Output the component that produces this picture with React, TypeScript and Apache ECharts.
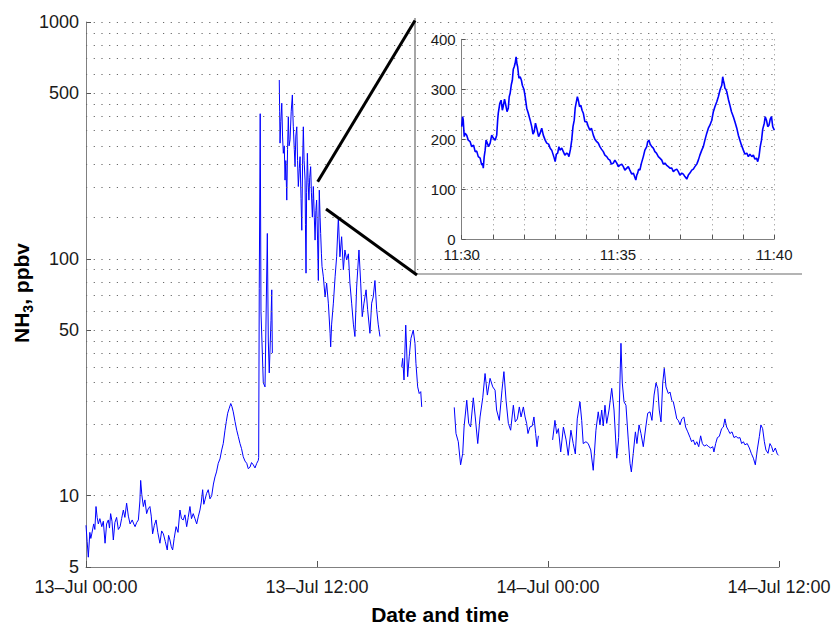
import React, { useEffect, useRef } from "react";
import * as echarts from "echarts";

// ---------- tick labels / grid values ----------
const X_TICK_LABELS = ["13–Jul 00:00", "13–Jul 12:00", "14–Jul 00:00", "14–Jul 12:00"];
const Y_TICK_VALUES = [5, 10, 50, 100, 500, 1000];
const Y_GRID_VALUES = [10, 15, 20, 25, 30, 35, 40, 45, 50, 60, 70, 80, 90, 100, 150, 200, 250, 300, 350, 400, 450, 500, 600, 700, 800, 900, 1000];
const INSET_X_LABELS = ["11:30", "11:35", "11:40"];

// ---------- main series: [hours since 13-Jul 00:00, NH3 ppbv] ----------
const SEG_A: [number, number][] = [
  [0.00, 7.5], [0.06, 6.4], [0.12, 5.5], [0.20, 7.0], [0.25, 6.6], [0.30, 6.9], [0.40, 7.6], [0.46, 7.2],
  [0.52, 9.0], [0.58, 8.1], [0.64, 7.6], [0.72, 8.0], [0.82, 7.4], [0.90, 7.8], [0.99, 6.3], [1.07, 7.6],
  [1.16, 7.9], [1.22, 7.3], [1.28, 8.4], [1.35, 7.8], [1.42, 6.5], [1.50, 7.7], [1.59, 8.1], [1.68, 7.2],
  [1.77, 7.4], [1.85, 8.0], [1.94, 8.7], [2.02, 8.1], [2.11, 9.3], [2.20, 8.2], [2.29, 7.6], [2.40, 7.9],
  [2.48, 7.6], [2.55, 7.4], [2.63, 7.7], [2.72, 7.9], [2.80, 9.5], [2.84, 11.6], [2.90, 10.1], [2.98, 9.0],
  [3.06, 9.6], [3.15, 8.4], [3.23, 8.8], [3.32, 9.0], [3.39, 8.2], [3.46, 6.9], [3.55, 7.5], [3.64, 7.9],
  [3.73, 7.0], [3.84, 6.3], [3.93, 7.1], [4.02, 6.9], [4.12, 6.4], [4.22, 5.9], [4.29, 6.8], [4.36, 6.5],
  [4.43, 6.1], [4.50, 5.9], [4.58, 6.6], [4.68, 7.4], [4.78, 7.0], [4.88, 8.7], [4.96, 8.0], [5.05, 7.9],
  [5.14, 8.3], [5.23, 7.4], [5.31, 8.1], [5.40, 9.0], [5.48, 8.0], [5.57, 8.4], [5.66, 8.0], [5.75, 7.6],
  [5.84, 8.2], [5.92, 8.7], [5.99, 9.4], [6.06, 10.6], [6.12, 9.2], [6.18, 9.6], [6.26, 10.2], [6.35, 10.6],
  [6.44, 9.7], [6.53, 10.0], [6.62, 11.2], [6.70, 12.0], [6.78, 12.6], [6.87, 13.7], [6.96, 14.3], [7.05, 15.6],
  [7.13, 16.6], [7.22, 18.9], [7.29, 20.6], [7.36, 22.3], [7.44, 23.4], [7.52, 24.5], [7.58, 23.8], [7.65, 22.6],
  [7.74, 20.6], [7.83, 18.9], [7.91, 17.8], [8.00, 16.6], [8.08, 15.8], [8.17, 14.6], [8.26, 14.0], [8.35, 13.7],
  [8.43, 13.0], [8.52, 13.2], [8.60, 13.8], [8.69, 13.5], [8.78, 13.1], [8.87, 13.7], [8.95, 14.1], [8.97, 14.5],
  [9.00, 75], [9.05, 410], [9.09, 60], [9.14, 45], [9.21, 30], [9.30, 28.8], [9.42, 128], [9.47, 45],
  [9.52, 33], [9.61, 55], [9.65, 74], [9.68, 40],
];
const SEG_B: [number, number][] = [
  [10.04, 569], [10.06, 420], [10.08, 308], [10.12, 380], [10.17, 454], [10.21, 330], [10.25, 279], [10.30, 300],
  [10.34, 215], [10.38, 260], [10.43, 177], [10.47, 290], [10.51, 398], [10.55, 300], [10.60, 318], [10.66, 420],
  [10.72, 492], [10.75, 400], [10.77, 361], [10.82, 290], [10.86, 245], [10.90, 330], [10.95, 361], [10.99, 260],
  [11.03, 202], [11.08, 240], [11.12, 270], [11.17, 180], [11.21, 132], [11.25, 250], [11.29, 361], [11.33, 260],
  [11.38, 215], [11.40, 140], [11.43, 87], [11.46, 190], [11.50, 279], [11.54, 210], [11.58, 177], [11.62, 220],
  [11.67, 245], [11.71, 190], [11.76, 150], [11.79, 180], [11.81, 202], [11.86, 150], [11.90, 120], [11.94, 160],
  [11.98, 177], [12.03, 120], [12.07, 81], [12.10, 150], [12.12, 195], [12.16, 150], [12.19, 128], [12.23, 105],
  [12.26, 93], [12.33, 84], [12.42, 69], [12.50, 79], [12.59, 65], [12.68, 48.5], [12.71, 42.5], [12.76, 53],
  [12.85, 65], [12.94, 84], [13.02, 102], [13.11, 150], [13.19, 102], [13.28, 124], [13.37, 90], [13.45, 109],
  [13.54, 99], [13.63, 105], [13.71, 79], [13.80, 65], [13.89, 53], [13.97, 47], [14.06, 76], [14.18, 109],
  [14.27, 79], [14.35, 57], [14.44, 65], [14.55, 74], [14.63, 61], [14.75, 48.5], [14.84, 65], [14.92, 69],
  [15.01, 81], [15.10, 61], [15.18, 53], [15.27, 47],
];
const SEG_C: [number, number][] = [
  [16.40, 35], [16.45, 38], [16.52, 30.8], [16.61, 52.5], [16.71, 31.8], [16.79, 38.6], [16.88, 46.2], [17.00, 50],
  [17.09, 44], [17.14, 36.2], [17.23, 28.8], [17.31, 27], [17.39, 27.5], [17.44, 23.7],
];
const SEG_D: [number, number][] = [
  [19.13, 23.6], [19.22, 18.3], [19.34, 16.9], [19.46, 13.5], [19.57, 15.1], [19.64, 19.5], [19.78, 25.3], [19.88, 20.2],
  [19.98, 19.5], [20.12, 25.9], [20.22, 21.5], [20.35, 16.6], [20.47, 21.5], [20.61, 25.9], [20.73, 32.8], [20.85, 26.6],
  [20.99, 31.3], [21.13, 28.8], [21.25, 27.9], [21.33, 23], [21.47, 20.8], [21.61, 27.9], [21.71, 33.4], [21.82, 25.3],
  [21.94, 20.2], [22.06, 18.9], [22.20, 24.1], [22.30, 20.5], [22.41, 21.1], [22.51, 23.7], [22.60, 21.5], [22.72, 23.7],
  [22.81, 21.5], [22.89, 20.2], [22.96, 18.3], [23.06, 19.5], [23.18, 19.7], [23.27, 21.5], [23.36, 18.3], [23.43, 16.1],
  [23.50, 17.9],
];
const SEG_E: [number, number][] = [
  [24.24, 17.2], [24.36, 20.8], [24.45, 18.3], [24.54, 19.2], [24.66, 15.3], [24.80, 19.5], [24.94, 17.2], [25.05, 14.8],
  [25.19, 18.9], [25.31, 16.6], [25.42, 15], [25.52, 21.1], [25.66, 24.9], [25.75, 20.8], [25.83, 16.6], [25.97, 16.9],
  [26.09, 16.6], [26.22, 15.6], [26.35, 12.8], [26.49, 18.9], [26.61, 22.6], [26.70, 19.9], [26.79, 23], [26.87, 19.7],
  [26.96, 24.1], [27.05, 20.2], [27.17, 23], [27.31, 28.4], [27.43, 23], [27.57, 14.4], [27.67, 17.6], [27.74, 30.8],
  [27.79, 44], [27.86, 29.9], [27.95, 24.9], [28.05, 24.1], [28.17, 17.2], [28.26, 13.7], [28.33, 12.6], [28.43, 15.1],
  [28.54, 18.6], [28.62, 16.6], [28.73, 19.9], [28.83, 18.3], [28.95, 16.1], [29.08, 19.5], [29.18, 22.3], [29.30, 22.6],
  [29.40, 20.8], [29.51, 26.6], [29.61, 29.9], [29.70, 28.4], [29.78, 23], [29.87, 20.5], [29.96, 29.9], [30.04, 34.5],
  [30.13, 28.8], [30.25, 27], [30.34, 27.4], [30.43, 25.3], [30.51, 24.9], [30.60, 23], [30.69, 21.1], [30.77, 20.8],
  [30.86, 19.9], [30.95, 21.1], [31.06, 21.5], [31.15, 19.5], [31.26, 18.6], [31.38, 17.6], [31.46, 16.9], [31.55, 17.2],
  [31.64, 16.4], [31.73, 16.9], [31.83, 16.1], [31.93, 17.9], [32.02, 16.6], [32.12, 16.2], [32.24, 16.4], [32.35, 16.1],
  [32.45, 15.9], [32.56, 16.1], [32.62, 15.3], [32.71, 16.6], [32.80, 17.6], [32.90, 17.8], [33.02, 19.2], [33.11, 19.5],
  [33.19, 21.1], [33.28, 19.5], [33.37, 18.9], [33.45, 18.3], [33.56, 18.6], [33.66, 17.6], [33.77, 17.8], [33.87, 17.5],
  [33.97, 17.6], [34.06, 16.6], [34.15, 16.9], [34.23, 16.4], [34.35, 16.6], [34.46, 15.9], [34.56, 15.1], [34.67, 14.4],
  [34.77, 13.5], [34.87, 15.6], [34.98, 17.8], [35.06, 19.9], [35.15, 19.2], [35.24, 16.9], [35.32, 15.6], [35.43, 15.1],
  [35.53, 16.6], [35.62, 16.1], [35.70, 15.3], [35.81, 15.9], [35.91, 15], [35.98, 14.8],
];

// ---------- inset series: [minutes after 11:30, NH3 ppbv] ----------
const INSET: [number, number][] = [
  [0.00, 225], [0.03, 245], [0.05, 238], [0.08, 205], [0.11, 212], [0.16, 208], [0.21, 198], [0.27, 195],
  [0.32, 185], [0.38, 188], [0.43, 175], [0.48, 176], [0.53, 165], [0.59, 162], [0.64, 148], [0.67, 152],
  [0.69, 142], [0.72, 165], [0.75, 178], [0.78, 198], [0.80, 195], [0.86, 185], [0.91, 192], [0.96, 208],
  [1.01, 202], [1.07, 198], [1.12, 208], [1.15, 238], [1.17, 252], [1.22, 272], [1.26, 278], [1.30, 258],
  [1.33, 266], [1.37, 280], [1.41, 268], [1.45, 255], [1.49, 262], [1.52, 285], [1.55, 292], [1.59, 310],
  [1.62, 318], [1.65, 340], [1.68, 345], [1.71, 352], [1.74, 365], [1.77, 350], [1.79, 345], [1.83, 322],
  [1.87, 325], [1.91, 318], [1.94, 308], [1.99, 300], [2.03, 285], [2.08, 262], [2.13, 252], [2.19, 238],
  [2.24, 225], [2.28, 210], [2.32, 215], [2.36, 232], [2.40, 222], [2.46, 205], [2.51, 212], [2.56, 222],
  [2.61, 208], [2.67, 198], [2.72, 192], [2.78, 190], [2.83, 182], [2.88, 178], [2.93, 168], [2.96, 162],
  [2.99, 155], [3.03, 170], [3.07, 172], [3.11, 185], [3.14, 178], [3.20, 182], [3.25, 175], [3.30, 168],
  [3.36, 172], [3.40, 170], [3.43, 165], [3.48, 180], [3.52, 198], [3.56, 225], [3.60, 238], [3.63, 262],
  [3.66, 272], [3.70, 285], [3.73, 278], [3.77, 265], [3.81, 268], [3.85, 258], [3.89, 252], [3.94, 235],
  [4.00, 235], [4.05, 225], [4.10, 218], [4.15, 222], [4.21, 208], [4.26, 200], [4.32, 195], [4.37, 192],
  [4.42, 185], [4.47, 180], [4.53, 175], [4.58, 168], [4.64, 165], [4.69, 160], [4.74, 158], [4.79, 150],
  [4.85, 152], [4.90, 158], [4.96, 152], [5.01, 145], [5.06, 148], [5.12, 150], [5.17, 145], [5.22, 138],
  [5.28, 142], [5.33, 145], [5.38, 138], [5.44, 130], [5.49, 132], [5.53, 125], [5.57, 118], [5.60, 128],
  [5.63, 132], [5.66, 140], [5.70, 138], [5.75, 152], [5.81, 165], [5.86, 178], [5.92, 185], [5.95, 195],
  [5.99, 198], [6.03, 190], [6.08, 185], [6.13, 182], [6.18, 175], [6.23, 172], [6.29, 165], [6.34, 162],
  [6.40, 158], [6.45, 150], [6.50, 152], [6.55, 148], [6.61, 145], [6.66, 142], [6.72, 142], [6.77, 135],
  [6.82, 138], [6.88, 140], [6.93, 135], [6.98, 128], [7.04, 132], [7.09, 130], [7.14, 125], [7.20, 120],
  [7.25, 128], [7.30, 132], [7.36, 138], [7.41, 140], [7.46, 145], [7.52, 150], [7.57, 158], [7.62, 168],
  [7.68, 178], [7.73, 185], [7.78, 198], [7.84, 212], [7.89, 222], [7.94, 228], [8.00, 238], [8.05, 255],
  [8.10, 265], [8.16, 275], [8.21, 285], [8.27, 300], [8.32, 308], [8.35, 325], [8.37, 318], [8.40, 310],
  [8.42, 302], [8.45, 300], [8.48, 295], [8.53, 280], [8.58, 268], [8.63, 255], [8.69, 245], [8.74, 235],
  [8.80, 222], [8.85, 208], [8.90, 198], [8.95, 188], [9.01, 178], [9.06, 170], [9.12, 172], [9.17, 165],
  [9.22, 170], [9.28, 165], [9.33, 168], [9.38, 160], [9.43, 162], [9.47, 155], [9.51, 165], [9.55, 185],
  [9.59, 198], [9.63, 220], [9.68, 232], [9.71, 245], [9.75, 238], [9.79, 225], [9.83, 228], [9.87, 240],
  [9.91, 245], [9.95, 225], [10.00, 218],
];

const FONT = "'Liberation Sans', Arial, Helvetica, sans-serif";
const BLUE = "#0000ff";

export default function App() {
  const ref = useRef<HTMLDivElement>(null);
  useEffect(() => {
    if (!ref.current) return;
    const chart = echarts.init(ref.current, null, { renderer: "svg" });
    const lineSeries = (data: [number, number][], extra: any = {}) => ({
      type: "line",
      xAxisIndex: 0,
      yAxisIndex: 0,
      data,
      showSymbol: false,
      symbol: "none",
      lineStyle: { color: BLUE, width: 1 },
      z: 2,
      silent: true,
      ...extra,
    });
    const option: any = {
      animation: false,
      grid: [
        { left: 86, top: 22, width: 693, height: 545 },
        { left: 461.7, top: 39.3, width: 312.6, height: 199.7 },
      ],
      xAxis: [
        {
          gridIndex: 0, type: "value", min: 0, max: 36, interval: 12,
          axisLine: { show: true, lineStyle: { color: "#808080", width: 1 } },
          axisTick: { show: true, inside: true, length: 6, lineStyle: { color: "#555" } },
          axisLabel: {
            formatter: (v: number) => X_TICK_LABELS[Math.round(v / 12)],
            fontSize: 18, color: "#1a1a1a", margin: 11, fontFamily: FONT,
            showMinLabel: true, showMaxLabel: true,
          },
          splitLine: { show: false },
        },
        {
          gridIndex: 1, type: "value", min: 0, max: 10, interval: 1, z: 10,
          axisLine: { show: true, lineStyle: { color: "#808080", width: 1 } },
          axisTick: { show: true, inside: true, length: 4, lineStyle: { color: "#555" } },
          axisLabel: {
            formatter: (v: number) => (Math.round(v) % 5 === 0 ? INSET_X_LABELS[Math.round(v) / 5] : ""),
            fontSize: 15, lineHeight: 15, color: "#1a1a1a", margin: 8, fontFamily: FONT,
            showMinLabel: true, showMaxLabel: true,
          },
          splitLine: { show: true, lineStyle: { type: [1, 4], color: "#8a8a8a", width: 1 } },
        },
      ],
      yAxis: [
        {
          gridIndex: 0, type: "log", logBase: 10, min: 5, max: 1000,
          axisLine: { show: true, lineStyle: { color: "#808080", width: 1 } },
          axisTick: { show: true, inside: true, length: 5, lineStyle: { color: "#555" }, customValues: Y_TICK_VALUES },
          axisLabel: {
            fontSize: 18, color: "#1a1a1a", margin: 7, fontFamily: FONT, customValues: Y_TICK_VALUES,
            formatter: (v: number) => String(Math.round(v)),
          },
          splitLine: { show: false },
          minorTick: { show: false },
        },
        {
          gridIndex: 1, type: "value", min: 0, max: 400, interval: 100, z: 10,
          axisLine: { show: true, lineStyle: { color: "#808080", width: 1 } },
          axisTick: { show: true, inside: true, length: 4, lineStyle: { color: "#555" } },
          axisLabel: { fontSize: 15, lineHeight: 12, color: "#1a1a1a", margin: 6, fontFamily: FONT },
          splitLine: { show: true, lineStyle: { type: [1, 4], color: "#8a8a8a", width: 1 } },
        },
      ],
      series: [
        lineSeries(SEG_A, {
          markLine: {
            silent: true,
            symbol: ["none", "none"],
            label: { show: false },
            lineStyle: { type: [1.2, 6.5], color: "#6a6a6a", width: 1 },
            emphasis: { disabled: true },
            data: Y_GRID_VALUES.map((v) => ({ yAxis: v })),
          },
        }),
        lineSeries(SEG_B),
        lineSeries(SEG_C),
        lineSeries(SEG_D),
        lineSeries(SEG_E),
        {
          type: "line", xAxisIndex: 1, yAxisIndex: 1, data: INSET,
          showSymbol: false, symbol: "none", silent: true, z: 10,
          lineStyle: { color: BLUE, width: 1.6 },
        },
      ],
      graphic: [
        { type: "rect", z: 5, silent: true, shape: { x: 415, y: 18, width: 388, height: 256 }, style: { fill: "#ffffff" } },
        { type: "line", z: 6, silent: true, shape: { x1: 415, y1: 18, x2: 415, y2: 274 }, style: { stroke: "#6a6a6a", lineWidth: 1.2 } },
        { type: "line", z: 6, silent: true, shape: { x1: 415, y1: 274, x2: 802, y2: 274 }, style: { stroke: "#6a6a6a", lineWidth: 1.2 } },
        { type: "line", z: 7, silent: true, shape: { x1: 317.7, y1: 181.7, x2: 415, y2: 20.5 }, style: { stroke: "#000", lineWidth: 3 } },
        { type: "line", z: 7, silent: true, shape: { x1: 326, y1: 209, x2: 417, y2: 275 }, style: { stroke: "#000", lineWidth: 3 } },
        {
          type: "text", z: 8, silent: true, x: 440, y: 614,
          style: { text: "Date and time", fontSize: 21, fontWeight: "bold", fontFamily: FONT, fill: "#000", align: "center", verticalAlign: "middle" },
        },
        {
          type: "text", z: 8, silent: true, x: 21, y: 293, rotation: Math.PI / 2,
          style: {
            text: "{n|NH}{s|3}{n|, ppbv}",
            align: "center", verticalAlign: "middle", fill: "#000",
            rich: {
              n: { fontSize: 21, fontWeight: "bold", fontFamily: FONT, lineHeight: 24, fill: "#000" },
              s: { fontSize: 14, fontWeight: "bold", fontFamily: FONT, lineHeight: 14, padding: [14, 0, 0, 0], fill: "#000" },
            },
          },
        },
      ],
    };
    chart.setOption(option);
    return () => chart.dispose();
  }, []);
  return <div ref={ref} style={{ position: "fixed", left: 0, top: 0, width: 835, height: 624, background: "#fff" }} />;
}
